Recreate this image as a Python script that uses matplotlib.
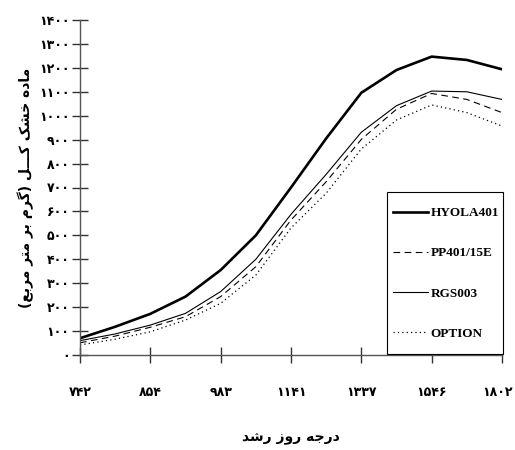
import numpy as np
import matplotlib
matplotlib.use("Agg")
import matplotlib.pyplot as plt
import matplotlib.transforms as mtransforms
from matplotlib.patches import Rectangle

# degree days shown on the category axis
gddLabels = ["742", "854", "983", "1141", "1337", "1546", "1802"]

# total dry matter (g/m2), read at every half category step
hyola401 = [70, 118, 172, 244, 355, 500, 700, 905, 1096, 1191, 1247, 1233, 1194]
pp401 = [51, 79, 116, 160, 244, 369, 564, 724, 901, 1027, 1093, 1068, 1013]
rgs003 = [60, 88, 125, 174, 265, 400, 588, 755, 931, 1042, 1103, 1100, 1068]
option = [42, 66, 97, 146, 216, 334, 531, 676, 861, 982, 1045, 1013, 957]

yTicks = list(range(0, 1500, 100))

xLabelText = "درجه روز رشد"
yLabelText = "ماده خشک کـــل (گرم بر متر مربع)"

# contextual forms: isolated, final, initial, medial
FORMS = {
    "ا": ("\uFE8D", "\uFE8E", None, None),
    "د": ("\uFEA9", "\uFEAA", None, None),
    "ر": ("\uFEAD", "\uFEAE", None, None),
    "ز": ("\uFEAF", "\uFEB0", None, None),
    "و": ("\uFEED", "\uFEEE", None, None),
    "ب": ("\uFE8F", "\uFE90", "\uFE91", "\uFE92"),
    "ت": ("\uFE95", "\uFE96", "\uFE97", "\uFE98"),
    "ج": ("\uFE9D", "\uFE9E", "\uFE9F", "\uFEA0"),
    "خ": ("\uFEA5", "\uFEA6", "\uFEA7", "\uFEA8"),
    "ش": ("\uFEB5", "\uFEB6", "\uFEB7", "\uFEB8"),
    "ع": ("\uFEC9", "\uFECA", "\uFECB", "\uFECC"),
    "ک": ("\uFB8E", "\uFB8F", "\uFB90", "\uFB91"),
    "گ": ("\uFB92", "\uFB93", "\uFB94", "\uFB95"),
    "ل": ("\uFEDD", "\uFEDE", "\uFEDF", "\uFEE0"),
    "م": ("\uFEE1", "\uFEE2", "\uFEE3", "\uFEE4"),
    "ه": ("\uFEE9", "\uFEEA", "\uFEEB", "\uFEEC"),
    "ـ": ("ـ", "ـ", "ـ", "ـ"),
}


def shape(text):
    out = []
    for i, c in enumerate(text):
        if c not in FORMS:
            out.append(c)
            continue
        prev = text[i - 1] if i > 0 else ""
        nxt = text[i + 1] if i + 1 < len(text) else ""
        prevJoins = prev in FORMS and FORMS[prev][2] is not None
        nextJoins = nxt in FORMS
        dual = FORMS[c][2] is not None
        if prevJoins and nextJoins and dual:
            out.append(FORMS[c][3])
        elif prevJoins:
            out.append(FORMS[c][1])
        elif nextJoins and dual:
            out.append(FORMS[c][2])
        else:
            out.append(FORMS[c][0])
    visual = "".join(reversed(out))
    return visual.translate(str.maketrans("()", ")("))


def faDigits(s):
    return s.translate(str.maketrans("0123456789", "۰۱۲۳۴۵۶۷۸۹"))


fig = plt.figure(figsize=(5.15, 4.5), dpi=100)
ax = fig.add_axes([80 / 515, 1 - 355 / 450, 422 / 515, 335 / 450])

xs = np.arange(len(hyola401)) / 2.0
ax.plot(xs, hyola401, color="black", lw=1.9, label="HYOLA401")
ax.plot(xs, pp401, color="black", lw=0.8, ls=(0, (6, 4)), label="PP401/15E")
ax.plot(xs, rgs003, color="black", lw=0.8, label="RGS003")
ax.plot(xs, option, color="black", lw=0.9, ls=(0, (1, 2.5)), label="OPTION")

ax.set_xlim(0, len(gddLabels) - 1)
ax.set_ylim(0, 1400)
ax.set_xticks(range(len(gddLabels)))
ax.set_xticklabels([faDigits(g) for g in gddLabels])
ax.set_yticks(yTicks)
ax.set_yticklabels([faDigits(str(v)) for v in yTicks])

for side in ["top", "right"]:
    ax.spines[side].set_visible(False)
for side in ["left", "bottom"]:
    ax.spines[side].set_color("#555555")
    ax.spines[side].set_linewidth(1.0)
ax.tick_params(direction="inout", length=11, width=1.0, color="#333333")
ax.tick_params(axis="x", pad=17)
ax.tick_params(axis="y", pad=2)
for lbl in ax.get_xticklabels() + ax.get_yticklabels():
    lbl.set_family(["DejaVu Sans"])
    lbl.set_fontweight("bold")
    lbl.set_fontsize(9)

# last x label sits on the figure edge, nudge it inward a little
lastLbl = ax.get_xticklabels()[-1]
lastLbl.set_transform(lastLbl.get_transform() + mtransforms.ScaledTranslation(-5 / 100, 0, fig.dpi_scale_trans))

ax.set_xlabel(shape(xLabelText), family=["DejaVu Sans"], fontweight="bold", fontsize=10, labelpad=23)
ax.set_ylabel(shape(yLabelText), family=["DejaVu Sans"], fontweight="bold", fontsize=10, labelpad=4)

# legend box drawn by hand so it can be taller than the text needs
ax.add_patch(Rectangle((307 / 422, 1 / 335), 116 / 422, 162 / 335, transform=ax.transAxes,
                       facecolor="white", edgecolor="black", lw=0.8, zorder=4, clip_on=False))
leg = ax.legend(loc="upper left", bbox_to_anchor=(313 / 422, 148 / 335), frameon=False,
                handlelength=2.65, handletextpad=0.2, labelspacing=2.12, borderpad=0, borderaxespad=0,
                prop={"family": "Liberation Serif", "weight": "bold", "size": 9.5})
leg.set_zorder(5)

fig.savefig("out.png", dpi=100)
